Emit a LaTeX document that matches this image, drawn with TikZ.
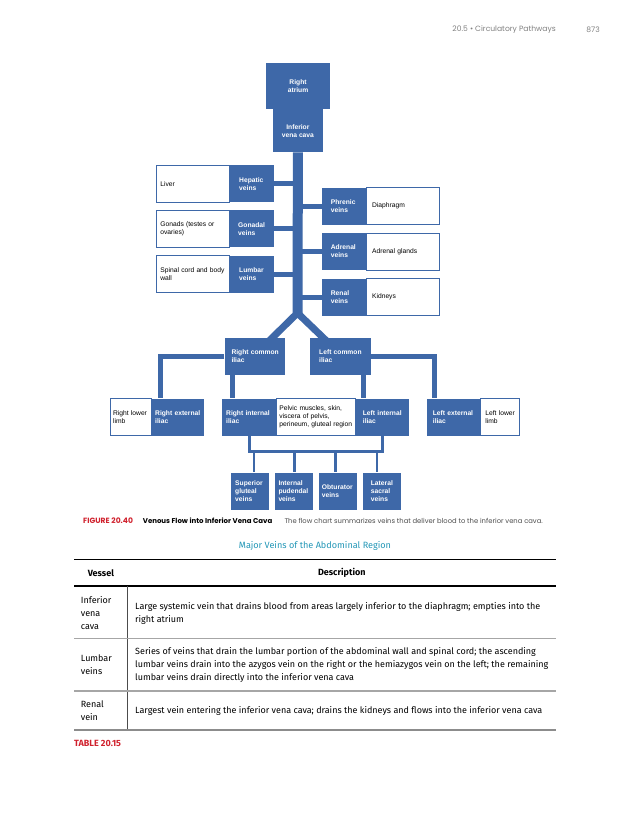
\documentclass[tikz,border=0pt]{standalone}
\usepackage{fontspec}
\setmainfont{Liberation Sans}
\newfontfamily\capfont{Poppins}
\newfontfamily\tabfont{Fira Sans}
\usepackage{tikz}
\usetikzlibrary{positioning}
\definecolor{veinblue}{RGB}{62,104,168}
\definecolor{capred}{RGB}{208,34,46}
\definecolor{titleteal}{RGB}{34,150,182}
\newcommand{\chartsize}{\fontsize{6.7}{8}\selectfont\hyphenpenalty=10000\exhyphenpenalty=10000}
\newcommand{\tabsize}{\tabfont\fontsize{9}{12.8}\selectfont}
\newcommand{\capsize}{\capfont\fontsize{6.8}{8}\selectfont}
\tikzstyle{vein}=[fill=veinblue,text=white,font=\chartsize\bfseries,align=left,anchor=north west,inner ysep=0pt,minimum height=37]
\tikzstyle{organ}=[draw=veinblue,line width=0.8,fill=white,font=\chartsize,align=left,anchor=north west,inner ysep=0pt,minimum height=37]
\tikzstyle{trunk} = [draw=veinblue,line width=10]
\tikzstyle{branch} = [draw=veinblue,line width=5]
\tikzstyle{diag} = [draw=veinblue,line width=7,shorten <=-4pt,shorten >=-4pt]
\tikzstyle{bracket} = [draw=veinblue,line width=3]
\tikzstyle{twig} = [draw=veinblue,line width=2.7]
\tikzstyle{cell} = [font=\tabsize,align=left,anchor=west,inner sep=0pt]
\tikzstyle{rule} = [draw,line width=1.3]

\begin{document}
\begin{tikzpicture}[x=1pt, y=-1pt]
    \useasboundingbox (0,0) rectangle (630,815);
    % running head
    \node[font=\capfont\fontsize{7.6}{9}\selectfont, text=black!50, anchor=east, inner sep=0pt] (runhead) at (556,30) {20.5 • Circulatory Pathways};
    \node[font=\capfont\fontsize{7.6}{9}\selectfont, text=black!50, anchor=east, inner sep=0pt] (pageno) at (600,30) {873};

    % flow chart
    \node[vein, align=center, minimum width=64.3, minimum height=46] (ratrium) at (265.7,63) {Right\\atrium};
    \node[vein, align=center, minimum width=50, minimum height=43] (ivc) at (272.7,109) {Inferior\\vena~cava};

    \foreach \x/\y/\w/\p/\name/\txt in {229/165/44.3/10/hepatic/Hepatic\\veins,
    229/210/44.3/9/gonadal/Gonadal\\veins, 229/255.3/44.3/10/lumbar/Lumbar\\veins,
    321.7/187.3/44.3/9/phrenic/Phrenic\\veins, 321.7/232.7/44.3/9/adrenal/Adrenal\\veins,
    321.7/278.3/44.3/9/renal/Renal\\veins,
    224.3/337.7/60.7/7/rcommon/Right~common\\iliac, 310/337.7/61/9/lcommon/Left~common\\iliac,
    150.7/398.3/53.3/4.3/rext/Right~external\\iliac, 222/398.3/53.7/4/rint/Right~internal\\iliac,
    355/398.3/54/7.7/lint/Left~internal\\iliac, 426.7/398.3/53.3/6/lext/Left~external\\iliac}{
        \pgfmathsetmacro{\tw}{\w-2*\p}
        \node[vein, inner xsep=\p, text width=\tw pt] (\name) at (\x,\y) {\txt};
    }

    \foreach \x/\w/\p/\name/\txt in {230.7/37.6/4.3/sgluteal/Superior\\gluteal\\veins,
    274.3/38/4/ipudendal/Internal\\pudendal\\veins, 319/37.7/2.7/obturator/Obturator\\veins,
    362.7/38/8/lsacral/Lateral\\sacral\\veins}{
        \pgfmathsetmacro{\tw}{\w-2*\p}
        \node[vein, minimum height=37.7, inner xsep=\p, text width=\tw pt] (\name) at (\x,472.3) {\txt};
    }

    \foreach \x/\y/\w/\p/\name/\txt in {156/165/73/4/liver/Liver,
    156/210/73/4/gonads/Gonads~(testes~or\\ovaries), 156/255.3/73/4/spinal/Spinal~cord~and~body\\wall,
    366/187.3/73.3/5.7/diaphragm/Diaphragm, 366/232.7/73.3/5.7/glands/Adrenal~glands,
    366/278.3/73.3/5.7/kidneys/Kidneys,
    110/398.3/40.7/2.7/rlower/Right~lower\\limb, 480/398.3/39.3/5/llower/Left~lower\\limb,
    {275.7/398.3/79.3/3.3/pelvic/Pelvic~muscles,~skin,\\viscera~of~pelvis,\\perineum,~gluteal~region}}{
        \pgfmathsetmacro{\tw}{\w-2*\p}
        \node[organ, inner xsep=\p, text width=\tw pt] (\name) at (\x,\y) {\txt};
    }

    % connectors
    \coordinate (fork) at (297.5,313);
    \path[trunk] (ivc.south) -- (fork);
    \path[diag] ([xshift=17.5pt]rcommon.north) -- (fork) -- ([xshift=-17.5pt]lcommon.north);
    \foreach \vein in {hepatic,gonadal,lumbar}
        \path[branch] (\vein.east) -- (\vein.east -| fork);
    \foreach \vein in {phrenic,adrenal,renal}
        \path[branch] (\vein.west) -- (\vein.west -| fork);
    \path[branch] (rcommon.west) -| ([xshift=10pt]rext.north west);
    \path[branch] (lcommon.east) -| ([xshift=7.5pt]lext.north west);
    \path[branch] ([xshift=8pt]rcommon.south west) -- ([xshift=8pt]rcommon.south west |- rint.north);
    \path[branch] ([xshift=-7.5pt]lcommon.south east) -- ([xshift=-7.5pt]lcommon.south east |- lint.north);
    \coordinate (bar) at (315,451.5);
    \path[bracket] (rint.south) |- (bar) -| (lint.south);
    \foreach \x/\name in {254/sgluteal, 294.7/ipudendal, 335.3/obturator, 377/lsacral}{
        \coordinate (top\name) at (\x,451.5);
        \path[twig] (top\name) -- (top\name |- \name.north);
    }

    % caption
    \node[font=\capfont\fontsize{7.6}{8}\selectfont\bfseries, text=capred, anchor=west, inner sep=0pt] (figno) at (83,521) {FIGURE 20.40};
    \node[font=\capfont\fontsize{7}{8}\selectfont\bfseries, anchor=west, inner sep=0pt] (figtitle) at (142.7,521) {Venous Flow into Inferior Vena Cava};
    \node[font=\capsize, text=black!70, anchor=west, inner sep=0pt] (figtext) at (284.3,521) {The flow chart summarizes veins that deliver blood to the inferior vena cava.};

    % table
    \node[font=\tabfont\fontsize{9.1}{11}\selectfont, text=titleteal, inner sep=0pt] (tabtitle) at (315,546) {Major Veins of the Abdominal Region};
    \path[rule] (74,559.3) -- (556,559.3);
    \path[rule] (74,586) -- (556,586);
    \path[draw=black!70, line width=0.9] (127.7,586) -- (127.7,730);
    \path[draw=black!35, line width=1.2] (74,638.3) -- (556,638.3);
    \path[draw=black!35, line width=1.2] (74,691) -- (556,691);
    \path[draw=black!45, line width=1.5] (74,730) -- (556,730);
    \node[cell, font=\tabsize\bfseries, anchor=center] (hvessel) at (100.9,573) {Vessel};
    \node[cell, font=\tabsize\bfseries, anchor=center] (hdesc) at (341.8,573) {Description};
    \node[cell] (ivcname) at (80.7,612.8) {Inferior\\vena\\cava};
    \node[cell] (ivcdesc) at (135,613.3) {Large systemic vein that drains blood from areas largely inferior to the diaphragm; empties into the\\right atrium};
    \node[cell] (lumbarname) at (80.7,664.5) {Lumbar\\veins};
    \node[cell] (lumbardesc) at (135,665) {Series of veins that drain the lumbar portion of the abdominal wall and spinal cord; the ascending\\lumbar veins drain into the azygos vein on the right or the hemiazygos vein on the left; the remaining\\lumbar veins drain directly into the inferior vena cava};
    \node[cell] (renalname) at (80.7,710.5) {Renal\\vein};
    \node[cell] (renaldesc) at (135,711) {Largest vein entering the inferior vena cava; drains the kidneys and flows into the inferior vena cava};
    \node[cell, font=\tabsize\bfseries, text=capred] (tabno) at (74,743.3) {TABLE 20.15};
\end{tikzpicture}
\end{document}
